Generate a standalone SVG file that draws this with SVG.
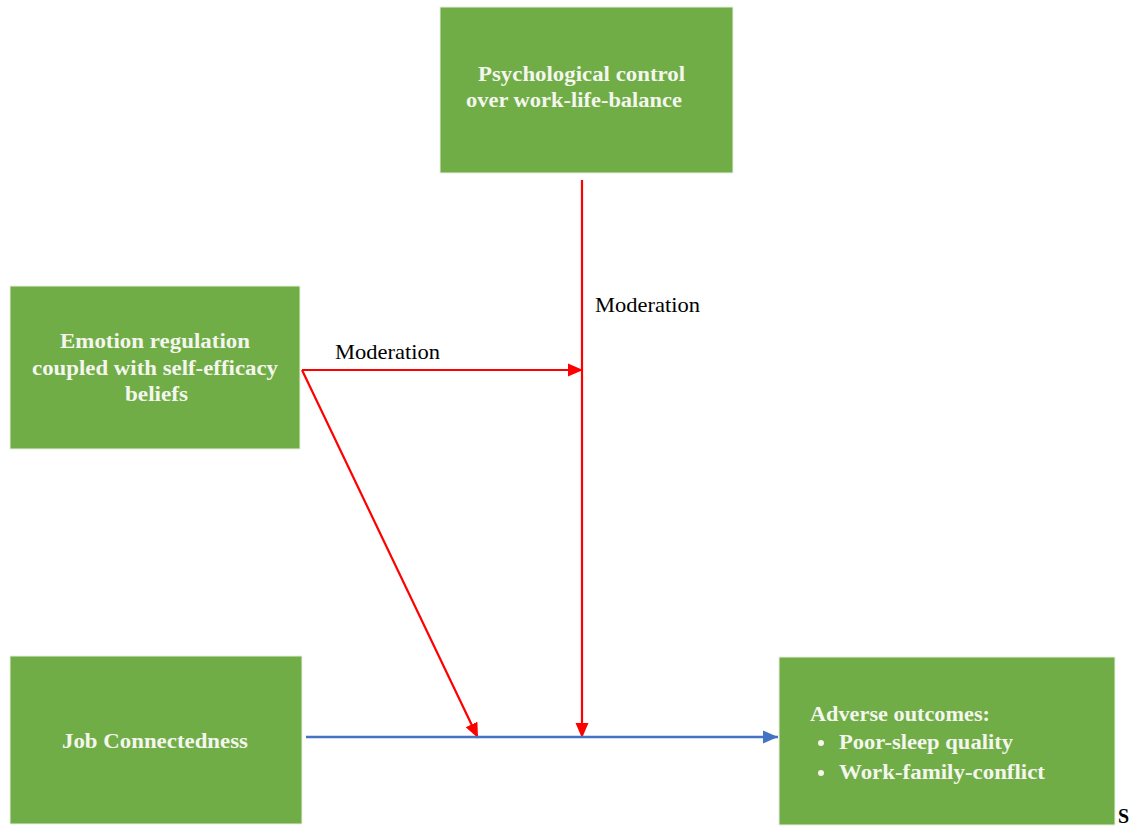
<svg xmlns="http://www.w3.org/2000/svg" width="1131" height="831" viewBox="0 0 1131 831">
<style>
.box{fill:#70AD47;stroke:#e8f0e0;stroke-width:1}
.nt{font-family:"Liberation Serif","Times New Roman",serif;font-weight:bold;font-size:20px;fill:#F4F6EE}
.lb{font-family:"Liberation Serif","Times New Roman",serif;font-size:21px;fill:#000}
.red{stroke:#FF0000;stroke-width:2.2;fill:none}
.blue{stroke:#4472C4;stroke-width:2.5;fill:none}
</style>
<defs>
<marker id="ar" markerUnits="userSpaceOnUse" markerWidth="18" markerHeight="14" refX="15" refY="7" orient="auto">
<path d="M0,0.5 L15,7 L0,13.5 Z" fill="#FF0000"/>
</marker>
<marker id="ab" markerUnits="userSpaceOnUse" markerWidth="18" markerHeight="14" refX="15" refY="7" orient="auto">
<path d="M0,0.5 L15,7 L0,13.5 Z" fill="#4472C4"/>
</marker>
</defs>
<rect width="1131" height="831" fill="#fff"/>
<g id="connectors">
<line class="red" x1="302" y1="370" x2="583" y2="370" marker-end="url(#ar)"/>
<line class="red" x1="582" y1="180" x2="582" y2="738" marker-end="url(#ar)"/>
<line class="red" x1="302" y1="370" x2="478" y2="738" marker-end="url(#ar)"/>
<line class="blue" x1="306" y1="737" x2="778" y2="737" marker-end="url(#ab)"/>
<text class="lb" x="335" y="359" textLength="105" lengthAdjust="spacingAndGlyphs">Moderation</text>
<text class="lb" x="595" y="312" textLength="105" lengthAdjust="spacingAndGlyphs">Moderation</text>
</g>
<g id="psych">
<rect class="box" x="440" y="7" width="293" height="166"/>
<text class="nt" x="478" y="81" textLength="207" lengthAdjust="spacingAndGlyphs">Psychological control</text>
<text class="nt" x="466" y="107" textLength="216" lengthAdjust="spacingAndGlyphs">over work-life-balance</text>
</g>
<g id="emotion">
<rect class="box" x="10" y="286" width="290" height="163"/>
<text class="nt" x="60" y="348" textLength="190" lengthAdjust="spacingAndGlyphs">Emotion regulation</text>
<text class="nt" x="32" y="375" textLength="246" lengthAdjust="spacingAndGlyphs">coupled with self-efficacy</text>
<text class="nt" x="125" y="401" textLength="63" lengthAdjust="spacingAndGlyphs">beliefs</text>
</g>
<g id="job">
<rect class="box" x="10" y="656" width="292" height="168"/>
<text class="nt" x="62" y="748" textLength="186" lengthAdjust="spacingAndGlyphs">Job Connectedness</text>
</g>
<g id="adverse">
<rect class="box" x="779" y="657" width="336" height="168"/>
<text class="nt" x="810" y="721" textLength="180" lengthAdjust="spacingAndGlyphs">Adverse outcomes:</text>
<circle cx="821" cy="743" r="3" fill="#F4F6EE"/>
<text class="nt" x="839" y="749" textLength="174" lengthAdjust="spacingAndGlyphs">Poor-sleep quality</text>
<circle cx="821" cy="773" r="3" fill="#F4F6EE"/>
<text class="nt" x="839" y="779" textLength="206" lengthAdjust="spacingAndGlyphs">Work-family-conflict</text>
</g>
<text class="nt" x="1118" y="823" style="fill:#000">S</text>
</svg>
